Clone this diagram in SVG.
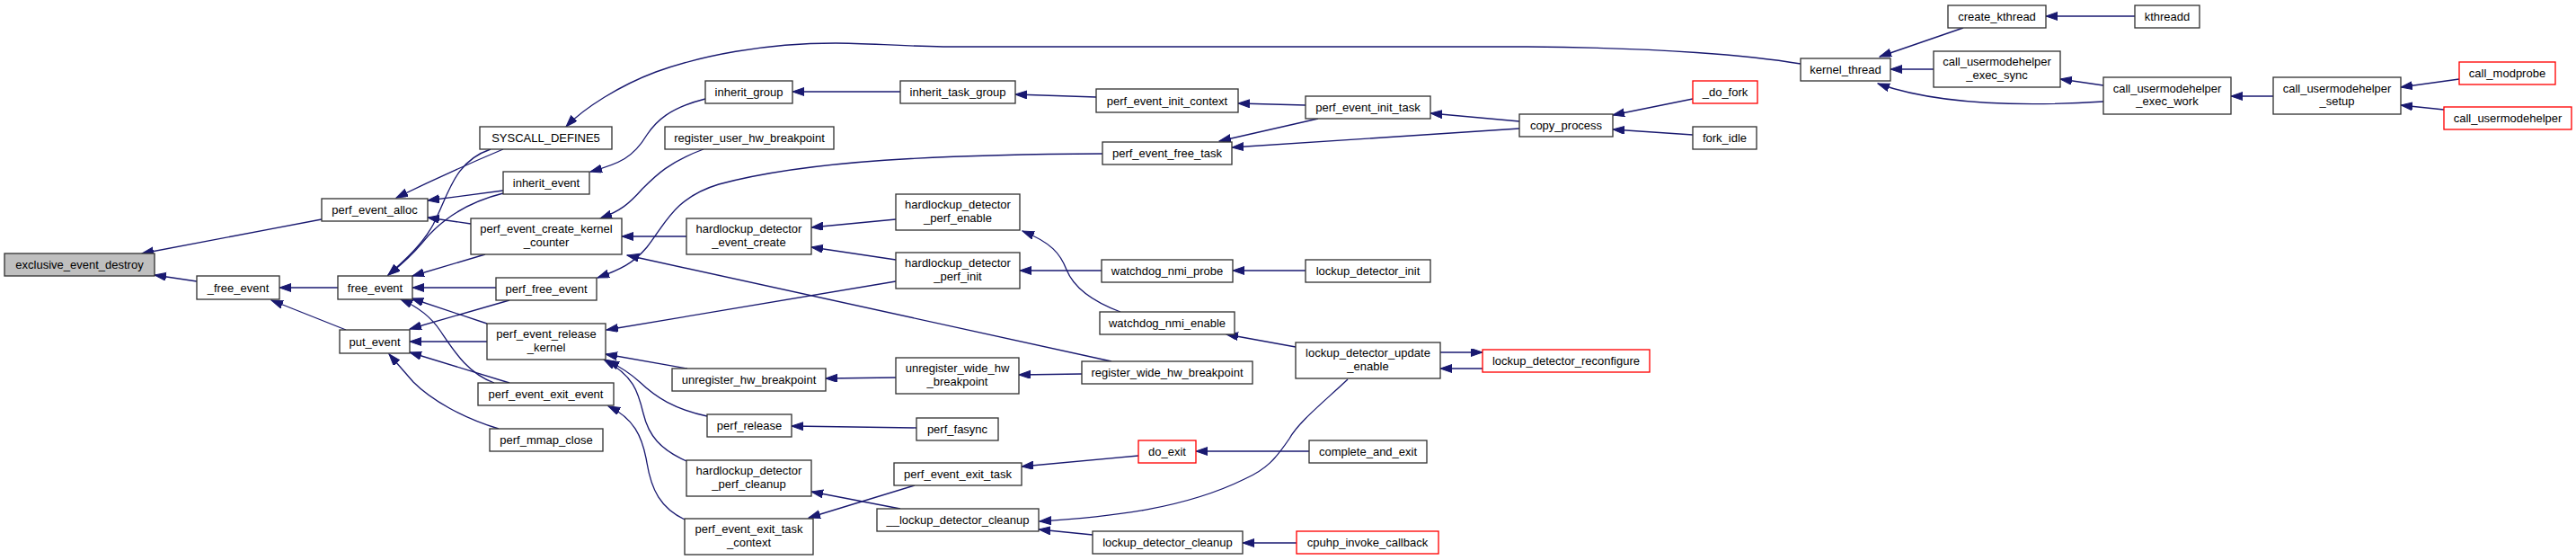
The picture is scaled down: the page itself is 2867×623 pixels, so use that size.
<svg xmlns="http://www.w3.org/2000/svg" width="2867" height="623" viewBox="0 0 2867 623">
<style>
.n rect{fill:#fff;stroke:#333;stroke-width:1.33}
.n.r rect{stroke:#f00}
.n.g rect{fill:#bfbfbf}
.n text{font-family:"Liberation Sans",Arial,sans-serif;font-size:13px;fill:#000;text-anchor:middle}
#edges path{fill:none;stroke:#191970;stroke-width:1.33;marker-end:url(#ah)}
</style>
<defs>
<marker id="ah" markerUnits="userSpaceOnUse" markerWidth="14" markerHeight="10" refX="13" refY="4.5" orient="auto">
<path d="M0,0 L13,4.5 L0,9 z" fill="#191970" stroke="#191970" stroke-width="1"/>
</marker>
</defs>
<rect width="2867" height="623" fill="#fff"/>
<g id="edges">
<path d="M358,244 L158,282"/>
<path d="M219,313 L172,306"/>
<path d="M376,320 L311,320"/>
<path d="M385,367 L302,334"/>
<path d="M560,166 C522,182 482,200 441,220"/>
<path d="M546,166 C505,180 500,215 482,250 C470,272 450,290 432,306"/>
<path d="M560,212 L476,223"/>
<path d="M560,215 C520,225 490,245 470,270 C455,288 442,298 432,306"/>
<path d="M524,249 L476,242"/>
<path d="M540,283 L459,307"/>
<path d="M552,320 L459,320"/>
<path d="M542,360 L458,332"/>
<path d="M550,426 C520,415 505,390 490,368 C478,350 462,340 446,333"/>
<path d="M567,334 L456,366"/>
<path d="M542,380 L456,380"/>
<path d="M567,426 L456,392"/>
<path d="M555,477 C515,465 480,445 460,425 L433,394"/>
<path d="M785,110 C745,120 730,135 720,150 C705,175 690,182 657,191"/>
<path d="M783,166 C745,180 730,195 715,210 C700,227 690,235 668,243"/>
<path d="M764,263 L692,263"/>
<path d="M1237,402 L698,284"/>
<path d="M1227,171 C1050,172 900,178 800,205 C750,220 740,250 720,275 C705,293 690,300 665,309"/>
<path d="M2004,71 C1950,62 1850,53 1700,52 L1050,52 C1000,51 960,48 930,48 C850,48 780,62 730,80 C690,95 650,120 630,141"/>
<path d="M997,244 L903,253"/>
<path d="M997,289 L903,275"/>
<path d="M997,313 L675,367"/>
<path d="M765,410 L674,394"/>
<path d="M787,463 C750,455 730,442 712,425 C700,414 690,408 676,401"/>
<path d="M764,513 C735,500 722,485 716,460 C710,435 705,418 672,400"/>
<path d="M762,578 C735,565 725,545 720,515 C715,485 705,465 677,452"/>
<path d="M997,420 L919,421"/>
<path d="M1204,416 L1134,417"/>
<path d="M1020,476 L881,474"/>
<path d="M1002,566 L903,547"/>
<path d="M1018,540 L900,576"/>
<path d="M1002,102 L882,102"/>
<path d="M1220,108 L1130,105"/>
<path d="M1453,117 L1378,115"/>
<path d="M1467,132 L1357,157"/>
<path d="M1691,143 L1371,164"/>
<path d="M1691,135 L1592,126"/>
<path d="M1884,110 L1795,128"/>
<path d="M1884,150 L1795,144"/>
<path d="M1226,301 L1135,301"/>
<path d="M1453,301 L1372,301"/>
<path d="M1247,347 C1215,335 1195,320 1187,300 C1180,282 1170,270 1138,257"/>
<path d="M1442,386 L1365,372"/>
<path d="M1603,392 L1650,392"/>
<path d="M1650,410 L1603,410"/>
<path d="M1267,507 L1137,519"/>
<path d="M1457,502 L1331,502"/>
<path d="M1500,422 C1470,450 1445,470 1435,488 C1420,510 1410,522 1385,533 C1320,565 1240,575 1157,580"/>
<path d="M1216,595 L1156,589"/>
<path d="M1443,604 L1383,604"/>
<path d="M2185,31 L2092,63"/>
<path d="M2376,18 L2277,18"/>
<path d="M2152,77 L2104,77"/>
<path d="M2341,113 C2260,118 2160,118 2090,93"/>
<path d="M2341,95 L2293,88"/>
<path d="M2530,107 L2483,107"/>
<path d="M2737,88 L2672,97"/>
<path d="M2720,122 L2672,117"/>
</g>
<g id="n_eed" class="n g"><rect x="5" y="282" width="167" height="25"/><text x="88.5" y="299">exclusive_event_destroy</text></g>
<g id="n_pea" class="n"><rect x="358" y="221" width="118" height="25"/><text x="417" y="238">perf_event_alloc</text></g>
<g id="n__fe" class="n"><rect x="219" y="307" width="92" height="26"/><text x="265" y="324.5">_free_event</text></g>
<g id="n_fe" class="n"><rect x="376" y="307" width="83" height="26"/><text x="417.5" y="324.5">free_event</text></g>
<g id="n_pe" class="n"><rect x="378" y="367" width="78" height="26"/><text x="417" y="384.5">put_event</text></g>
<g id="n_sd5" class="n"><rect x="534" y="141" width="147" height="25"/><text x="607.5" y="158">SYSCALL_DEFINE5</text></g>
<g id="n_ie" class="n"><rect x="560" y="191" width="96" height="25"/><text x="608" y="208">inherit_event</text></g>
<g id="n_pekc" class="n"><rect x="524" y="243" width="168" height="40"/><text x="608" y="259">perf_event_create_kernel</text><text x="608" y="273.5">_counter</text></g>
<g id="n_pfe" class="n"><rect x="552" y="309" width="112" height="25"/><text x="608" y="326">perf_free_event</text></g>
<g id="n_perk" class="n"><rect x="542" y="360" width="132" height="40"/><text x="608" y="376">perf_event_release</text><text x="608" y="390.5">_kernel</text></g>
<g id="n_peee" class="n"><rect x="532" y="426" width="151" height="25"/><text x="607.5" y="443">perf_event_exit_event</text></g>
<g id="n_pmc" class="n"><rect x="545" y="477" width="126" height="25"/><text x="608" y="494">perf_mmap_close</text></g>
<g id="n_ig" class="n"><rect x="785" y="90" width="97" height="25"/><text x="833.5" y="107">inherit_group</text></g>
<g id="n_ruhb" class="n"><rect x="740" y="141" width="188" height="25"/><text x="834" y="158">register_user_hw_breakpoint</text></g>
<g id="n_hdec" class="n"><rect x="764" y="243" width="139" height="40"/><text x="833.5" y="259">hardlockup_detector</text><text x="833.5" y="273.5">_event_create</text></g>
<g id="n_uhb" class="n"><rect x="748" y="410" width="171" height="25"/><text x="833.5" y="427">unregister_hw_breakpoint</text></g>
<g id="n_pr" class="n"><rect x="787" y="461" width="94" height="25"/><text x="834" y="478">perf_release</text></g>
<g id="n_hdpc" class="n"><rect x="764" y="512" width="139" height="40"/><text x="833.5" y="528">hardlockup_detector</text><text x="833.5" y="542.5">_perf_cleanup</text></g>
<g id="n_petc" class="n"><rect x="762" y="577" width="143" height="40"/><text x="833.5" y="593">perf_event_exit_task</text><text x="833.5" y="607.5">_context</text></g>
<g id="n_itg" class="n"><rect x="1002" y="90" width="128" height="25"/><text x="1066" y="107">inherit_task_group</text></g>
<g id="n_hdpe" class="n"><rect x="997" y="216" width="138" height="40"/><text x="1066" y="232">hardlockup_detector</text><text x="1066" y="246.5">_perf_enable</text></g>
<g id="n_hdpi" class="n"><rect x="997" y="281" width="138" height="40"/><text x="1066" y="297">hardlockup_detector</text><text x="1066" y="311.5">_perf_init</text></g>
<g id="n_uwhb" class="n"><rect x="997" y="398" width="137" height="40"/><text x="1065.5" y="414">unregister_wide_hw</text><text x="1065.5" y="428.5">_breakpoint</text></g>
<g id="n_pfa" class="n"><rect x="1020" y="465" width="91" height="25"/><text x="1065.5" y="482">perf_fasync</text></g>
<g id="n_pet" class="n"><rect x="995" y="515" width="142" height="25"/><text x="1066" y="532">perf_event_exit_task</text></g>
<g id="n__ldc" class="n"><rect x="976" y="566" width="180" height="25"/><text x="1066" y="583">__lockup_detector_cleanup</text></g>
<g id="n_peic" class="n"><rect x="1220" y="99" width="158" height="26"/><text x="1299" y="116.5">perf_event_init_context</text></g>
<g id="n_peft" class="n"><rect x="1227" y="158" width="144" height="25"/><text x="1299" y="175">perf_event_free_task</text></g>
<g id="n_wnp" class="n"><rect x="1226" y="289" width="146" height="25"/><text x="1299" y="306">watchdog_nmi_probe</text></g>
<g id="n_wne" class="n"><rect x="1224" y="347" width="150" height="25"/><text x="1299" y="364">watchdog_nmi_enable</text></g>
<g id="n_rwhb" class="n"><rect x="1204" y="402" width="190" height="25"/><text x="1299" y="419">register_wide_hw_breakpoint</text></g>
<g id="n_de" class="n r"><rect x="1267" y="490" width="64" height="25"/><text x="1299" y="507">do_exit</text></g>
<g id="n_ldc" class="n"><rect x="1216" y="591" width="167" height="25"/><text x="1299.5" y="608">lockup_detector_cleanup</text></g>
<g id="n_peit" class="n"><rect x="1453" y="107" width="139" height="25"/><text x="1522.5" y="124">perf_event_init_task</text></g>
<g id="n_ldi" class="n"><rect x="1453" y="289" width="139" height="25"/><text x="1522.5" y="306">lockup_detector_init</text></g>
<g id="n_ldue" class="n"><rect x="1442" y="381" width="161" height="40"/><text x="1522.5" y="397">lockup_detector_update</text><text x="1522.5" y="411.5">_enable</text></g>
<g id="n_cae" class="n"><rect x="1457" y="490" width="131" height="25"/><text x="1522.5" y="507">complete_and_exit</text></g>
<g id="n_cic" class="n r"><rect x="1443" y="591" width="158" height="25"/><text x="1522" y="608">cpuhp_invoke_callback</text></g>
<g id="n_cp" class="n"><rect x="1691" y="127" width="104" height="25"/><text x="1743" y="144">copy_process</text></g>
<g id="n_ldr" class="n r"><rect x="1650" y="389" width="186" height="25"/><text x="1743" y="406">lockup_detector_reconfigure</text></g>
<g id="n_df" class="n r"><rect x="1884" y="90" width="72" height="25"/><text x="1920" y="107">_do_fork</text></g>
<g id="n_fi" class="n"><rect x="1884" y="141" width="71" height="25"/><text x="1919.5" y="158">fork_idle</text></g>
<g id="n_kt" class="n"><rect x="2004" y="65" width="100" height="25"/><text x="2054" y="82">kernel_thread</text></g>
<g id="n_ck" class="n"><rect x="2168" y="6" width="109" height="25"/><text x="2222.5" y="23">create_kthread</text></g>
<g id="n_cues" class="n"><rect x="2152" y="57" width="141" height="40"/><text x="2222.5" y="73">call_usermodehelper</text><text x="2222.5" y="87.5">_exec_sync</text></g>
<g id="n_kd" class="n"><rect x="2376" y="6" width="72" height="25"/><text x="2412" y="23">kthreadd</text></g>
<g id="n_cuew" class="n"><rect x="2341" y="86" width="142" height="41"/><text x="2412" y="102.5">call_usermodehelper</text><text x="2412" y="117">_exec_work</text></g>
<g id="n_cus" class="n"><rect x="2530" y="86" width="142" height="41"/><text x="2601" y="102.5">call_usermodehelper</text><text x="2601" y="117">_setup</text></g>
<g id="n_cm" class="n r"><rect x="2737" y="69" width="107" height="25"/><text x="2790.5" y="86">call_modprobe</text></g>
<g id="n_cu" class="n r"><rect x="2720" y="119" width="142" height="25"/><text x="2791" y="136">call_usermodehelper</text></g>
</svg>
